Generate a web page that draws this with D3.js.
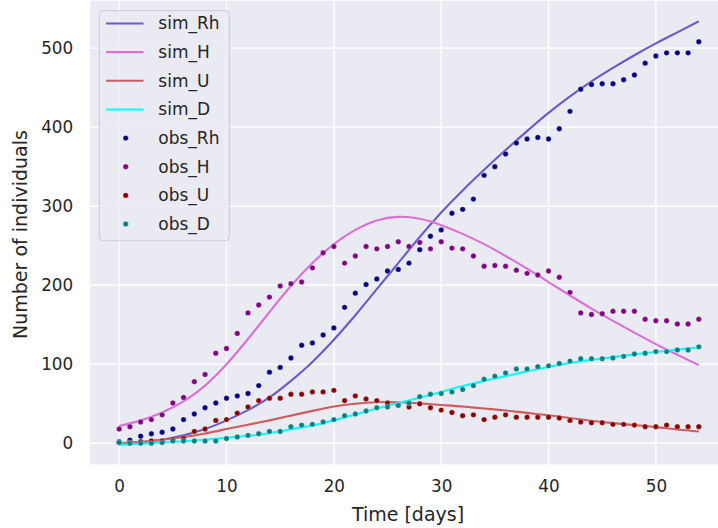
<!DOCTYPE html>
<html>
<head>
<meta charset="utf-8">
<script src="https://cdn.jsdelivr.net/npm/d3@7"></script>
<style>
  body { margin: 0; background: #ffffff; }
  svg { display: block; font-family: "DejaVu Sans", sans-serif; }
</style>
</head>
<body>
<svg id="chart" width="718" height="528"></svg>
<script>
// ---------- data ----------
const simDays = [0,2,4,6,8,10,12,14,16,18,20,22,24,26,28,30,32,34,36,38,40,42,44,46,48,50,52,54];
const sim_Rh = [0,1.5,4.5,10,18,29,42,58,79,103,131,162,195,228,261,292,320,346,371,395,418,439,458,475,491,506,520,534];
const sim_H  = [22,29,39,53,73,100,132,166,199,228,252,270,282,286.5,284,276,265,252,237,221,204,187,170.5,155,140,125.5,112,99];
const sim_U  = [0,1.5,4.5,8,12.5,18,23.5,29,35,41,46.5,50,52,52,50.5,48.5,46.5,44,41.5,38.5,35.5,32,28.5,25.5,23,20.5,17.5,15];
const sim_D  = [-2,-0.5,1,2.5,4.5,7,9.5,12.7,17.7,22.5,29,36.5,44,51,57.7,65,72.5,79,85,91,96.5,101.5,105.5,109,112.5,115.5,118.5,121.5];

const obsDays = d3.range(0, 55);
const obs_Rh = [2,4,9,12,14,18,30,37,45,51,57,60,63,73,90,96,108,124,127,137,146,172,190,201,208,218,220,228,245,262,270,291,296,309,339,350,366,380,385,387,385,398,420,448,454,455,455,460,466,481,490,494,494,494,508];
const obs_H  = [18,21,27,30,36,51,58,78,87,114,120,139,165,175,185,199,202,204,222,241,249,228,237,249,246,249,255,249,254,246,255,247,246,237,224,225,224,219,215,213,218,210,191,165,163,164,167,167,167,157,155,155,151,151,157];
const obs_U  = [1,1,2,3,3,5,6,15,18,29,30,38,46,54,57,57,62,62,65,65,67,54,60,56,54,51,48,46,50,45,42,39,35,36,30,33,36,33,33,33,33,32,29,27,26,26,24,24,23,21,21,23,21,21,21];
const obs_D  = [1,0,0,0,1,3,3,3,3,3,6,8,10,12,15,15,21,23,24,27,30,35,37,41,45,46,48,51,59,62,63,65,68,73,81,85,89,94,94,97,98,101,104,107,107,107,108,110,113,114,116,116,118,118,122];

const xTicks = [0,10,20,30,40,50];
const yTicks = [0,100,200,300,400,500];
const xLabel = "Time [days]";
const yLabel = "Number of individuals";

const simSeries = [
  {name: "sim_Rh", values: sim_Rh, color: "#6a5acd"},
  {name: "sim_H",  values: sim_H,  color: "#da70d6"},
  {name: "sim_U",  values: sim_U,  color: "#cd5c5c"},
  {name: "sim_D",  values: sim_D,  color: "#00ffff"}
];
const obsSeries = [
  {name: "obs_Rh", values: obs_Rh, color: "#000080"},
  {name: "obs_H",  values: obs_H,  color: "#800080"},
  {name: "obs_U",  values: obs_U,  color: "#8b0000"},
  {name: "obs_D",  values: obs_D,  color: "#008080"}
];

// ---------- layout ----------
const svg = d3.select("#chart");
const x = d3.scaleLinear().domain([-2.7, 56.7]).range([90.2, 727.8]);
const y = d3.scaleLinear().domain([-26.7, 560]).range([464.4, 0.7]);

const plotLeft = x.range()[0], plotRight = x.range()[1];
const plotTop = y.range()[1], plotBottom = y.range()[0];

svg.append("rect")
  .attr("x", plotLeft).attr("y", plotTop)
  .attr("width", plotRight - plotLeft).attr("height", plotBottom - plotTop)
  .attr("fill", "#eaeaf2");

// grid
const grid = svg.append("g");
grid.selectAll(".gx").data(xTicks).enter().append("line")
  .attr("x1", d => x(d)).attr("x2", d => x(d))
  .attr("y1", plotTop).attr("y2", plotBottom)
  .attr("stroke", "#ffffff").attr("stroke-width", 1.4);
grid.selectAll(".gy").data(yTicks).enter().append("line")
  .attr("x1", plotLeft).attr("x2", plotRight)
  .attr("y1", d => y(d)).attr("y2", d => y(d))
  .attr("stroke", "#ffffff").attr("stroke-width", 1.4);

// axes (labels only, as in seaborn darkgrid)
const xAxis = svg.append("g")
  .attr("transform", `translate(0,${plotBottom})`)
  .call(d3.axisBottom(x).tickValues(xTicks).tickSize(0).tickPadding(16).tickFormat(d3.format("d")));
const yAxis = svg.append("g")
  .attr("transform", `translate(${plotLeft},0)`)
  .call(d3.axisLeft(y).tickValues(yTicks).tickSize(0).tickPadding(17).tickFormat(d3.format("d")));
[xAxis, yAxis].forEach(a => {
  a.select(".domain").remove();
  a.selectAll("text").attr("fill", "#262626").style("font-size", "16.8px")
    .style("font-family", "'DejaVu Sans', sans-serif");
});

svg.append("text")
  .attr("x", (plotLeft + 727.8) / 2 - 1).attr("y", 521)
  .attr("text-anchor", "middle").attr("fill", "#262626")
  .style("font-size", "19px").text(xLabel);
svg.append("text")
  .attr("transform", `translate(27,${(plotTop + plotBottom) / 2 + 2}) rotate(-90)`)
  .attr("text-anchor", "middle").attr("fill", "#262626")
  .style("font-size", "19px").text(yLabel);

// clip
svg.append("clipPath").attr("id", "clip").append("rect")
  .attr("x", plotLeft).attr("y", plotTop)
  .attr("width", plotRight - plotLeft).attr("height", plotBottom - plotTop);
const plot = svg.append("g").attr("clip-path", "url(#clip)");

const line = d3.line().curve(d3.curveNatural);
simSeries.forEach(s => {
  plot.append("path")
    .attr("d", line(simDays.map((t, i) => [x(t), y(s.values[i])])))
    .attr("fill", "none").attr("stroke", s.color).attr("stroke-width", 2.1);
});
obsSeries.forEach(s => {
  plot.selectAll(null).data(obsDays).enter().append("circle")
    .attr("cx", d => x(d)).attr("cy", (d, i) => y(s.values[i]))
    .attr("r", 2.7).attr("fill", s.color)
    .attr("stroke", "#ffffff").attr("stroke-opacity", 0.6).attr("stroke-width", 0.5);
});

// legend
const lg = svg.append("g");
lg.append("rect")
  .attr("x", 99.3).attr("y", 10.7).attr("width", 130).attr("height", 230)
  .attr("rx", 4).attr("fill", "#eaeaf2").attr("fill-opacity", 0.8)
  .attr("stroke", "#cccccc").attr("stroke-width", 1);
const entries = simSeries.map(s => ({...s, type: "line"})).concat(obsSeries.map(s => ({...s, type: "dot"})));
entries.forEach((e, i) => {
  const cy = 23.5 + i * 28.65;
  if (e.type === "line") {
    lg.append("line").attr("x1", 106).attr("x2", 143.5).attr("y1", cy).attr("y2", cy)
      .attr("stroke", e.color).attr("stroke-width", 2.1);
  } else {
    lg.append("circle").attr("cx", 125.7).attr("cy", cy).attr("r", 2.7).attr("fill", e.color)
      .attr("stroke", "#ffffff").attr("stroke-opacity", 0.6).attr("stroke-width", 0.5);
  }
  lg.append("text").attr("x", 158.3).attr("y", cy).attr("dy", "0.35em")
    .attr("fill", "#262626").style("font-size", "17px").text(e.name);
});
</script>
</body>
</html>
